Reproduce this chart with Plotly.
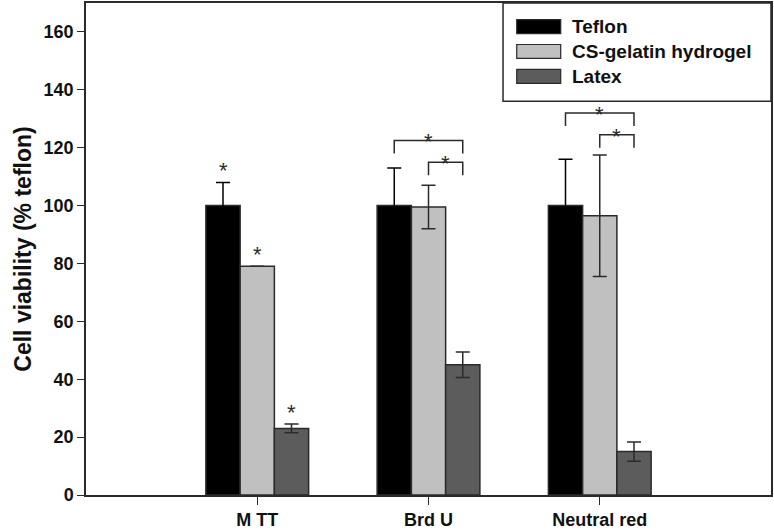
import plotly.graph_objects as go

# ---- data ----
categories = ["M TT", "Brd U", "Neutral red"]
series_names = ["Teflon", "CS-gelatin hydrogel", "Latex"]
teflon = [100, 100, 100]
teflon_err = [8, 13, 16]
cs_gel = [79, 99.5, 96.5]
cs_gel_err = [0, 7.5, 21]
latex = [23, 45, 15]
latex_err = [1.5, 4.4, 3.3]

# significance stars above single bars (MTT group)
single_star_series = [0, 1, 2]
single_star_category = [0, 0, 0]

# brackets: category index, from series, to series, bracket height
bracket_category = [1, 1, 2, 2]
bracket_from = [0, 1, 0, 1]
bracket_to = [2, 2, 2, 2]
bracket_height = [122.5, 115, 132, 124.5]

colors = ["#000000", "#c0c0c0", "#5c5c5c"]
err_colors = ["#000000", "#2a2a2a", "#2a2a2a"]
values = [teflon, cs_gel, latex]
errors = [teflon_err, cs_gel_err, latex_err]

FONT = "Liberation Sans, Arial, sans-serif"
DARK = "#2a2a2a"
x_idx = list(range(len(categories)))

fig = go.Figure()
for name, vals, errs, col, ecol in zip(series_names, values, errors, colors, err_colors):
    fig.add_trace(go.Bar(
        x=x_idx, y=vals, name=name,
        marker=dict(color=col, line=dict(color=DARK, width=1.5)),
        error_y=dict(type="data", array=errs, visible=True,
                     color=ecol, thickness=1.5, width=7),
        showlegend=False, hoverinfo="skip",
    ))

bar_w = 0.2
offsets = [-bar_w, 0.0, bar_w]

annotations = []
shapes = []

# single stars
for s, c in zip(single_star_series, single_star_category):
    top = values[s][c] + errors[s][c]
    annotations.append(dict(x=c + offsets[s], y=top + 4.0, text="*", showarrow=False,
                            xref="x", yref="y", font=dict(family=FONT, size=22, color=DARK),
                            yanchor="middle"))

# brackets
leg = 4.5
for c, a, b, h in zip(bracket_category, bracket_from, bracket_to, bracket_height):
    xa = c + offsets[a]
    xb = c + offsets[b]
    path = f"M {xa},{h - leg} L {xa},{h} L {xb},{h} L {xb},{h - leg}"
    shapes.append(dict(type="path", path=path, xref="x", yref="y",
                       line=dict(color=DARK, width=1.5)))
    annotations.append(dict(x=(xa + xb) / 2, y=h - 0.5, text="*", showarrow=False,
                            xref="x", yref="y", font=dict(family=FONT, size=22, color=DARK),
                            yanchor="middle"))

# manual legend
lg_left, lg_bottom = 0.6088, 0.8003
shapes.append(dict(type="rect", xref="paper", yref="paper", x0=lg_left, x1=1, y0=lg_bottom, y1=1,
                   line=dict(color=DARK, width=1.5), fillcolor="white", layer="above"))
row_centers = [0.952, 0.9015, 0.851]
for name, col, yc in zip(series_names, colors, row_centers):
    shapes.append(dict(type="rect", xref="paper", yref="paper", x0=0.6288, x1=0.693,
                       y0=yc - 0.0142, y1=yc + 0.0142, fillcolor=col,
                       line=dict(color=DARK, width=1.2), layer="above"))
    annotations.append(dict(x=0.7066, y=yc, xref="paper", yref="paper", text=f"<b>{name}</b>",
                            showarrow=False, xanchor="left", yanchor="middle",
                            font=dict(family=FONT, size=19, color="#111")))

fig.update_layout(
    width=774, height=531,
    margin=dict(l=86, r=3, t=3, b=36, autoexpand=False),
    paper_bgcolor="white", plot_bgcolor="white",
    barmode="group", bargap=0.4, bargroupgap=0,
    font=dict(family=FONT, color="#111"),
    shapes=shapes, annotations=annotations,
    xaxis=dict(range=[-1, 3], tickvals=x_idx,
               ticktext=[f"<b>{c}</b>" for c in categories],
               tickfont=dict(family=FONT, size=18, color="#111"),
               ticks="outside", ticklen=8, tickwidth=1.2, tickcolor=DARK,
               showline=True, linecolor=DARK, linewidth=1.5, mirror=True,
               showgrid=False, zeroline=False),
    yaxis=dict(range=[0, 170], tickvals=list(range(0, 161, 20)),
               ticktext=[f"<b>{v}</b>" for v in range(0, 161, 20)],
               tickfont=dict(family=FONT, size=18, color="#111"),
               ticks="outside", ticklen=7, tickwidth=1.2, tickcolor=DARK,
               showline=True, linecolor=DARK, linewidth=1.5, mirror=True,
               showgrid=False, zeroline=False,
               title=dict(text="<b>Cell viability (% teflon)</b>",
                          font=dict(family=FONT, size=23, color="#111"), standoff=6)),
)

fig.write_html("out.html", config={"displayModeBar": False},
               post_script="document.body.style.margin='0';")
